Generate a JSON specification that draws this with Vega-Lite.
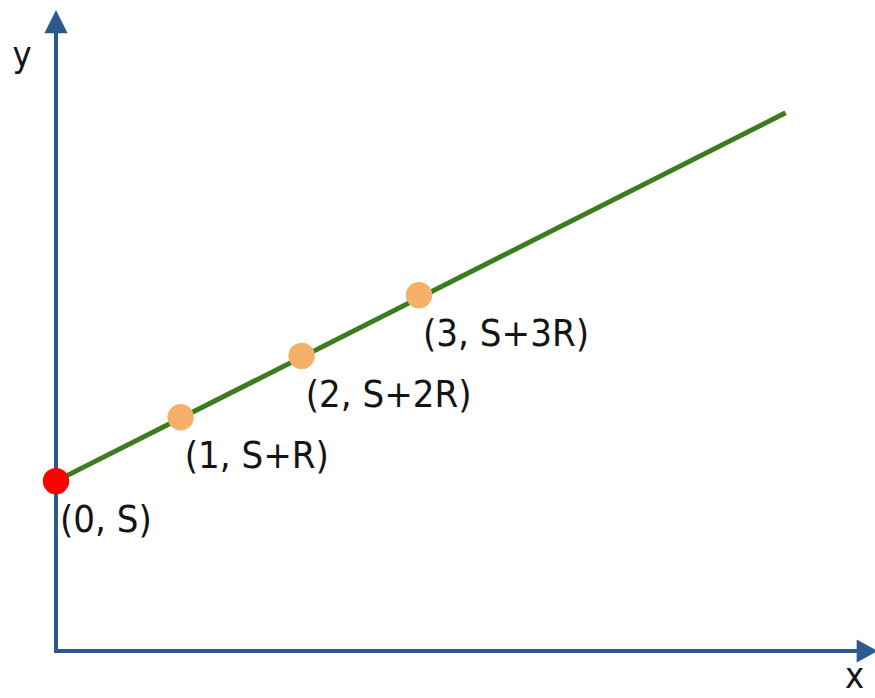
{
  "$schema": "https://vega.github.io/schema/vega-lite/v6.json",
  "width": 875,
  "height": 698,
  "autosize": "none",
  "padding": 0,
  "background": "white",
  "config": {"view": {"stroke": null}},
  "datasets": {
    "points": [
      {"x": 0, "y": 2.74, "label": "(0, S)", "kind": "start"},
      {"x": 1.03, "y": 3.77, "label": "(1, S+R)", "kind": "step"},
      {"x": 2.03, "y": 4.76, "label": "(2, S+2R)", "kind": "step"},
      {"x": 3.0, "y": 5.74, "label": "(3, S+3R)", "kind": "step"}
    ],
    "line": [
      {"x": 0, "y": 2.74},
      {"x": 6.03, "y": 8.68}
    ],
    "axes": [
      {"axis": "x", "x": 0, "y": 0, "x2": 6.62, "y2": 0},
      {"axis": "y", "x": 0, "y": 0, "x2": 0, "y2": 9.97}
    ],
    "arrows": [
      {"axis": "x", "x": 6.694, "y": 0},
      {"axis": "y", "x": 0, "y": 10.153}
    ],
    "axisLabels": [
      {"label": "y", "x": -0.28, "y": 9.42},
      {"label": "x", "x": 6.6, "y": -0.6}
    ]
  },
  "encoding": {
    "x": {"field": "x", "type": "quantitative", "scale": {"domain": [-0.4628, 6.7686], "nice": false, "zero": false}, "axis": null},
    "y": {"field": "y", "type": "quantitative", "scale": {"domain": [-0.758, 10.5], "nice": false, "zero": false}, "axis": null}
  },
  "layer": [
    {
      "data": {"name": "axes"},
      "mark": {"type": "rule", "color": "#2b5a8e", "strokeWidth": 4, "strokeCap": "square"},
      "encoding": {"x2": {"field": "x2"}, "y2": {"field": "y2"}}
    },
    {
      "data": {"name": "arrows"},
      "transform": [{"filter": "datum.axis === 'y'"}],
      "mark": {"type": "point", "filled": true, "opacity": 1, "color": "#2b5a8e", "shape": "M0,-1L-1,1L1,1Z", "size": 540, "strokeWidth": 0}
    },
    {
      "data": {"name": "arrows"},
      "transform": [{"filter": "datum.axis === 'x'"}],
      "mark": {"type": "point", "filled": true, "opacity": 1, "color": "#2b5a8e", "shape": "M1,0L-0.8,-1L-0.8,1Z", "size": 540, "strokeWidth": 0}
    },
    {
      "data": {"name": "line"},
      "mark": {"type": "line", "color": "#3b7d1e", "strokeWidth": 5},
      "encoding": {}
    },
    {
      "data": {"name": "points"},
      "mark": {"type": "point", "filled": true, "opacity": 1, "shape": "circle", "size": 700, "strokeWidth": 0},
      "encoding": {
        "color": {"field": "kind", "type": "nominal", "scale": {"domain": ["start", "step"], "range": ["#ff0000", "#f5b06b"]}, "legend": null}
      }
    },
    {
      "data": {"name": "points"},
      "mark": {"type": "text", "align": "left", "baseline": "alphabetic", "dx": 4, "dy": 51, "font": "DejaVu Sans Condensed", "fontSize": 38, "color": "#141414"},
      "encoding": {"text": {"field": "label"}}
    },
    {
      "data": {"name": "axisLabels"},
      "mark": {"type": "text", "align": "center", "baseline": "alphabetic", "font": "DejaVu Sans Condensed", "fontSize": 36, "color": "#141414"},
      "encoding": {"text": {"field": "label"}}
    }
  ]
}
